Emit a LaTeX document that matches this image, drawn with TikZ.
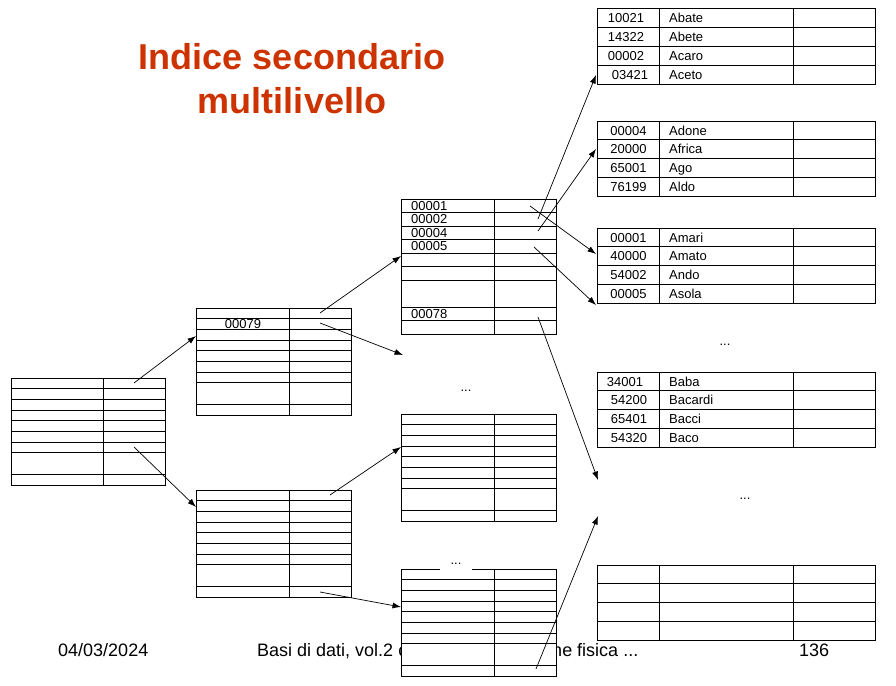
\documentclass[tikz,border=0pt]{standalone}
\usepackage{fontspec}
\setmainfont{Liberation Sans}
\usetikzlibrary{arrows.meta}
\definecolor{titlecol}{RGB}{204,51,0}
\newcommand\idxtab[7]{% #1 name, #2 left, #3 col, #4 right, #5 top, #6 unit, #7 lines
  \node[tblbox, anchor=north west, minimum width=#4pt-#2pt, minimum height=10*#6pt] (#1) at (#2,#5) {};
  \draw[tbl] (#3,#5) -- (#3,#5+10*#6);
  \foreach \k in {#7} \draw[tbl] (#2,#5+\k*#6) -- (#4,#5+\k*#6);
}
\newcommand\datatab[4]{% #1 name, #2 top, #3 number x, #4 list
  \node[tblbox, anchor=north west, minimum width=278pt, minimum height=75pt] (#1) at (597,#2) {};
  \foreach \k in {1,2,3} \draw[tbl] (597,#2+\k*18.75) -- (875,#2+\k*18.75);
  \draw[tbl] (659,#2) -- (659,#2+75);
  \draw[tbl] (793,#2) -- (793,#2+75);
  \foreach \n/\w/\dx [count=\k from 0] in {#4} {
    \node[cell] (#1n\k) at (#3+\dx, #2+\k*18.75+14) {\n};
    \node[cell, anchor=base west] (#1w\k) at (669, #2+\k*18.75+14) {\w};
  }
}
\begin{document}
\begin{tikzpicture}[x=1pt,y=-1pt,
  tbl/.style={line width=1pt, draw=black},
  tblbox/.style={draw=black, line width=1pt, fill=white, inner sep=0pt, outer sep=0pt},
  cell/.style={font=\fontsize{13}{15}\selectfont, inner sep=0pt, anchor=base},
  dots/.style={font=\fontsize{13}{15}\selectfont, inner sep=0pt, anchor=base},
  conn/.style={line width=0.7pt, -{Latex[length=8.5pt,width=6pt]}},
  foot/.style={font=\fontsize{18}{21}\selectfont, inner sep=0pt, anchor=base west},
  ttl/.style={font=\fontsize{36}{44}\selectfont\bfseries, text=titlecol, inner sep=0pt, anchor=base}]
\useasboundingbox (0,0) rectangle (896,685);

% title
\node[ttl] (title1) at (292,70) {Indice secondario};
\node[ttl] (title2) at (292,113) {multilivello};

% footer
\node[foot] (date) at (58,656) {04/03/2024};
\node[foot] (course) at (257,656) {Basi di dati, vol.2 c\makebox[145pt][l]{ap.1 Organizzazio}ne fisica ...};
\node[foot] (page) at (799,656) {136};

% index tables
\idxtab{L1}{11}{103}{165}{378}{10.7}{1,2,3,4,5,6,7,9}
\idxtab{L2a}{196}{289}{351}{308}{10.7}{1,2,3,4,5,6,7,9}
\idxtab{L2b}{196}{289}{351}{490}{10.7}{1,2,3,4,5,6,7,9}
\idxtab{L3a}{401}{494}{556}{199}{13.5}{1,2,3,4,5,6,8,9}
\idxtab{L3b}{401}{494}{556}{414}{10.7}{1,2,3,4,5,6,7,9}
\idxtab{L3c}{401}{494}{556}{569}{10.7}{1,2,3,4,5,6,7,9}

\node[cell] (k79) at (243,328.5) {00079};
\node[cell, anchor=base west] (k1) at (411,210) {00001};
\node[cell, anchor=base west] (k2) at (411,223.5) {00002};
\node[cell, anchor=base west] (k4) at (411,237) {00004};
\node[cell, anchor=base west] (k5) at (411,250.5) {00005};
\node[cell, anchor=base west] (k78) at (411,318) {00078};

% data tables
\datatab{D1}{9}{626}{10021/Abate/0, 14322/Abete/0, 00002/Acaro/0, 03421/Aceto/4}
\datatab{D2}{121}{628.5}{00004/Adone/0, 20000/Africa/0, 65001/Ago/0, 76199/Aldo/0}
\datatab{D3}{228}{628.5}{00001/Amari/0, 40000/Amato/0, 54002/Ando/0, 00005/Asola/0}
\datatab{D4}{372}{629}{34001/Baba/-4, 54200/Bacardi/0, 65401/Bacci/0, 54320/Baco/0}
\node[tblbox, anchor=north west, minimum width=278pt, minimum height=75pt] (D5) at (597,565) {};
\foreach \k in {1,2,3} \draw[tbl] (597,565+\k*18.75) -- (875,565+\k*18.75);
\draw[tbl] (659,565) -- (659,640);
\draw[tbl] (793,565) -- (793,640);

% ellipses
\node[dots] (dA) at (725,345) {...};
\node[dots] (dB) at (745,499) {...};
\node[dots] (dC) at (466,391) {...};
\node[dots, fill=white, minimum width=32pt, text depth=8pt] (dD) at (456,564) {...};

% connectors
\coordinate (s1) at (134,383);  \coordinate (e1) at (196,336);
\coordinate (s2) at (134,447);  \coordinate (e2) at (196,507);
\coordinate (s3) at (320,313);  \coordinate (e3) at (401,256);
\coordinate (s4) at (320,323);  \coordinate (e4) at (403,355);
\coordinate (s5) at (330,495);  \coordinate (e5) at (401,447);
\coordinate (s6) at (320,592);  \coordinate (e6) at (401,607);
\coordinate (s7) at (538,219);  \coordinate (e7) at (596,75);
\coordinate (s8) at (538,231);  \coordinate (e8) at (596,149);
\coordinate (s9) at (530,206);  \coordinate (e9) at (596,254);
\coordinate (s10) at (534,247); \coordinate (e10) at (596,305);
\coordinate (s11) at (538,317); \coordinate (e11) at (598,480);
\coordinate (s12) at (536,669); \coordinate (e12) at (598,516);
\foreach \i in {1,...,12} \draw[conn] (s\i) -- (e\i);
\end{tikzpicture}
\end{document}
